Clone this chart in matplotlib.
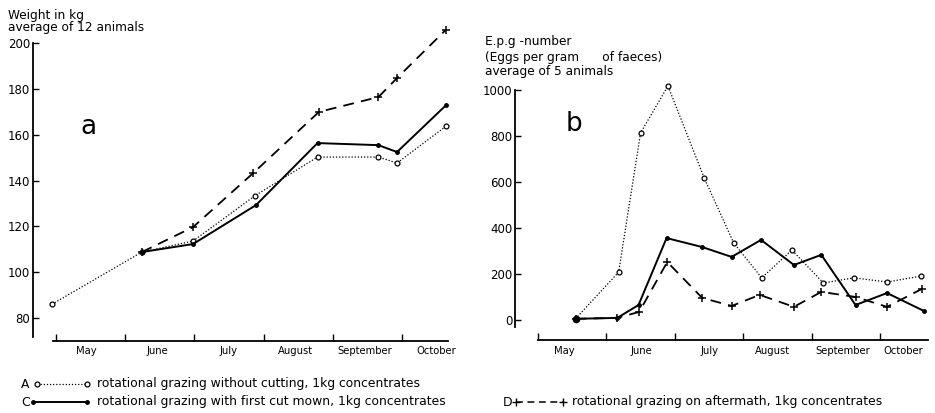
import numpy as np
import matplotlib
matplotlib.use("Agg")
import matplotlib.pyplot as plt
from matplotlib.lines import Line2D

# months counted from 1 May (0 = start of May)
months = ['May', 'June', 'July', 'August', 'September', 'October']

# panel a: weight in kg
wa_x = [-0.06, 1.24, 1.98, 2.87, 3.78, 4.66, 4.93, 5.64]
wa_y = [86, 108.8, 113.6, 133.3, 150.3, 150.3, 147.7, 163.8]
wc_x = [1.24, 1.98, 2.89, 3.78, 4.66, 4.93, 5.64]
wc_y = [108.8, 112.3, 129.3, 156.4, 155.5, 152.5, 173]
wd_x = [1.24, 1.98, 2.85, 3.80, 4.66, 4.93, 5.64]
wd_y = [108.8, 119.7, 143.3, 170, 176.5, 184.8, 206]

# panel b: eggs per gram of faeces
ea_x = [0.55, 1.18, 1.50, 1.90, 2.43, 2.86, 3.27, 3.71, 4.17, 4.62, 5.10, 5.60]
ea_y = [5, 208, 813, 1017, 617, 335, 183, 304, 161, 183, 165, 191]
ec_x = [0.55, 1.16, 1.47, 1.88, 2.40, 2.83, 3.26, 3.74, 4.14, 4.64, 5.10, 5.64]
ec_y = [5, 9, 65, 356, 317, 274, 348, 239, 283, 65, 117, 39]
ed_x = [0.55, 1.16, 1.48, 1.89, 2.40, 2.83, 3.24, 3.74, 4.14, 4.64, 5.10, 5.61]
ed_y = [5, 9, 35, 252, 96, 61, 109, 57, 122, 100, 57, 135]

fs_tick = 8.5
fs_month = 8.0
fs_text = 8.7
fs_key = 8.9
dash = (0, (6, 4))
dots = (0, (1, 1.5))

fig = plt.figure(figsize=(9.35, 4.13), dpi=100)
ax1 = fig.add_axes([0.0353, 0.1746, 0.450, 0.765])
ax2 = fig.add_axes([0.5508, 0.1768, 0.4455, 0.6295])


def style(ax, ylim, ybounds, yticks, xb, label_pos):
    ax.set_xlim(-0.334, 5.75)
    ax.set_ylim(*ylim)
    for s in ['top', 'right']:
        ax.spines[s].set_visible(False)
    ax.spines['left'].set_bounds(*ybounds)
    ax.spines['bottom'].set_bounds(*xb)
    ax.spines['left'].set_linewidth(1.3)
    ax.spines['bottom'].set_linewidth(1.3)
    ax.set_yticks(yticks)
    ax.set_yticklabels([str(t) for t in yticks], fontsize=fs_tick)
    ax.tick_params(axis='y', direction='in', length=4, width=1, pad=2)
    ax.set_xticks(range(6))
    ax.set_xticklabels([])
    ax.tick_params(axis='x', which='major', direction='in', length=5, width=1)
    ax.set_xticks(label_pos, minor=True)
    ax.set_xticklabels(months, minor=True, fontsize=fs_month,
                       fontstretch='condensed')
    ax.tick_params(axis='x', which='minor', length=0, pad=4)


style(ax1, (70, 208), (71.5, 200), [80, 100, 120, 140, 160, 180, 200],
      (-0.04, 5.67), [0.44, 1.47, 2.5, 3.46, 4.46, 5.5])
style(ax2, (-87, 1043), (-30, 1000), [0, 200, 400, 600, 800, 1000],
      (0, 5.7), [0.39, 1.51, 2.5, 3.43, 4.46, 5.33])

ax1.plot(wa_x, wa_y, color='black', lw=0.9, ls=dots, marker='o',
         ms=3.5, mfc='white', mec='black', mew=0.9, zorder=3)
ax1.plot(wc_x, wc_y, color='black', lw=1.4, marker='o', ms=2.5, zorder=4)
ax1.plot(wd_x, wd_y, color='black', lw=1.3, ls=dash, marker='+', ms=6,
         mew=1.1, zorder=2)

ax2.plot(ea_x, ea_y, color='black', lw=0.9, ls=dots, marker='o',
         ms=3.5, mfc='white', mec='black', mew=0.9, zorder=3)
ax2.plot(ec_x, ec_y, color='black', lw=1.4, marker='o', ms=2.5, zorder=4)
ax2.plot(ed_x, ed_y, color='black', lw=1.3, ls=dash, marker='+', ms=6,
         mew=1.1, zorder=2)
ax2.plot(ec_x[:1], ec_y[:1], 'o', color='black', ms=4.5, zorder=5)

fig.text(8 / 935, 1 - 15 / 413, 'Weight in kg', fontsize=fs_text, va='center')
fig.text(8 / 935, 1 - 28 / 413, 'average of 12 animals', fontsize=fs_text, va='center')
fig.text(485 / 935, 1 - 42 / 413, 'E.p.g -number', fontsize=fs_text, va='center')
fig.text(485 / 935, 1 - 57 / 413, '(Eggs per gram      of faeces)', fontsize=fs_text, va='center')
fig.text(485 / 935, 1 - 71 / 413, 'average of 5 animals', fontsize=fs_text, va='center')

fig.text(80 / 935, 1 - 127 / 413, 'a', fontsize=19, va='center')
fig.text(566 / 935, 1 - 124 / 413, 'b', fontsize=19, va='center')

# key
rows = [
    ('A', 21, 384, 37, 87, dict(ls=dots, lw=0.9, marker='o', ms=3.5,
                               mfc='white', mec='black', mew=0.9),
     'rotational grazing without cutting, 1kg concentrates', 97),
    ('C', 21, 402, 33, 87, dict(ls='-', lw=1.4, marker='o', ms=2.5),
     'rotational grazing with first cut mown, 1kg concentrates', 97),
    ('D', 503, 402, 516, 563, dict(ls=(0, (4.5, 3)), lw=1.1, marker='+', ms=5.5, mew=1.0),
     'rotational grazing on aftermath, 1kg concentrates', 572),
]
for letter, lx, y, x0, x1, kw, txt, tx in rows:
    yf = 1 - y / 413
    fig.text(lx / 935, yf, letter, fontsize=fs_key, va='center')
    fig.add_artist(Line2D([x0 / 935, x1 / 935], [yf, yf], color='black',
                          transform=fig.transFigure, **kw))
    fig.text(tx / 935, yf, txt, fontsize=fs_key, va='center')

fig.savefig('out.png', dpi=100)
